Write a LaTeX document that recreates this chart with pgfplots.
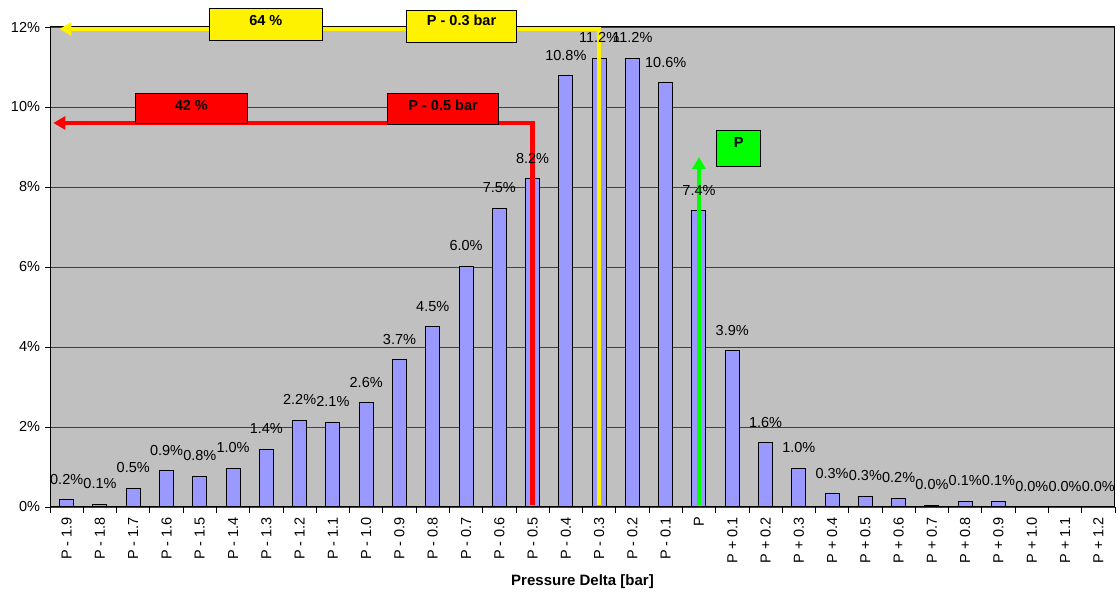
\documentclass[border=0pt]{standalone}
\usepackage{pgfplots}
\pgfplotsset{compat=1.18}
\usepackage{fontspec}
\setmainfont{Liberation Sans}
\usetikzlibrary{arrows.meta}
\definecolor{barfill}{HTML}{9999FF}
\definecolor{plotbg}{HTML}{C0C0C0}
\begin{document}
\fontsize{14.5}{17}\selectfont
\begin{tikzpicture}
\begin{axis}[
    scale only axis,
    width=1065pt, height=480pt,
    xmin=-0.5, xmax=31.5, ymin=0, ymax=12,
    axis background/.style={fill=plotbg},
    axis line style={black, line width=1pt},
    ybar, bar width=14pt,
    /pgf/number format/assume math mode=true,
    ytick={0,2,...,12},
    yticklabels={0\%,2\%,4\%,6\%,8\%,10\%,12\%},
    xtick={0,...,31},
    xticklabels={P - 1.9,P - 1.8,P - 1.7,P - 1.6,P - 1.5,P - 1.4,P - 1.3,P - 1.2,
        P - 1.1,P - 1.0,P - 0.9,P - 0.8,P - 0.7,P - 0.6,P - 0.5,P - 0.4,P - 0.3,
        P - 0.2,P - 0.1,P,P + 0.1,P + 0.2,P + 0.3,P + 0.4,P + 0.5,P + 0.6,P + 0.7,
        P + 0.8,P + 0.9,P + 1.0,P + 1.1,P + 1.2},
    xticklabel style={rotate=90, anchor=east},
    major x tick style={draw=none},
    minor xtick={-0.5,0.5,...,31.5},
    xtick pos=bottom, ytick pos=left,
    tick align=outside,
    major tick length=5pt, minor tick length=6pt,
    tick style={black, line width=0.8pt},
    ymajorgrids, grid style={black!75, line width=0.7pt},
    nodes near coords={\pgfmathprintnumber[fixed,fixed zerofill,precision=1]{\pgfplotspointmeta}\%},
    nodes near coords style={anchor=south, inner sep=0pt, yshift=15pt, black},
    xlabel={\fontsize{15}{17}\selectfont\bfseries Pressure Delta [bar]},
    xlabel style={at={(axis description cs:0.5,0)}, anchor=center, yshift=-75pt},
    clip=false,
]
\addplot[fill=barfill, draw=black, line width=1pt] coordinates {
    (0,0.18) (1,0.07) (2,0.47) (3,0.90) (4,0.77) (5,0.97) (6,1.44) (7,2.17)
    (8,2.12) (9,2.60) (10,3.68) (11,4.50) (12,6.02) (13,7.47) (14,8.20) (15,10.78)
    (16,11.21) (17,11.21) (18,10.60) (19,7.40) (20,3.90) (21,1.60) (22,0.97) (23,0.33)
    (24,0.26) (25,0.22) (26,0.04) (27,0.14) (28,0.14) (29,0) (30,0) (31,0)};

% annotation lines
\draw[yellow, line width=4.3pt, -{Triangle[length=12pt,width=13pt]}]
    (axis cs:16,0.05) -- (axis cs:16,11.95) -- (axis cs:-0.22,11.95);
\draw[red, line width=4.3pt, -{Triangle[length=12pt,width=13pt]}]
    (axis cs:14,0.05) -- (axis cs:14,9.6) -- (axis cs:-0.40,9.6);
\draw[green, line width=4.3pt, -{Triangle[length=12pt,width=13pt]}]
    (axis cs:19,0.05) -- (axis cs:19,8.75);

% annotation boxes
\draw[fill=yellow, line width=1pt] (axis cs:4.28,11.67) rectangle (axis cs:7.69,12.47);
\node[font=\bfseries] at (axis cs:5.985,12.16) {64 \%};
\draw[fill=yellow, line width=1pt] (axis cs:10.20,11.62) rectangle (axis cs:13.53,12.42);
\node[font=\bfseries] at (axis cs:11.865,12.16) {P - 0.3 bar};
\draw[fill=red, line width=1pt] (axis cs:2.07,9.58) rectangle (axis cs:5.42,10.34);
\node[font=\bfseries] at (axis cs:3.745,10.03) {42 \%};
\draw[fill=red, line width=1pt] (axis cs:9.64,9.56) rectangle (axis cs:12.98,10.34);
\node[font=\bfseries] at (axis cs:11.31,10.03) {P - 0.5 bar};
\draw[fill=green, line width=1pt] (axis cs:19.54,8.5) rectangle (axis cs:20.85,9.4);
\node[font=\bfseries] at (axis cs:20.195,9.11) {P};

% page size
\path (rel axis cs:-0.047,-0.18125) rectangle (rel axis cs:1.0019,1.05625);
\end{axis}
\end{tikzpicture}
\end{document}
